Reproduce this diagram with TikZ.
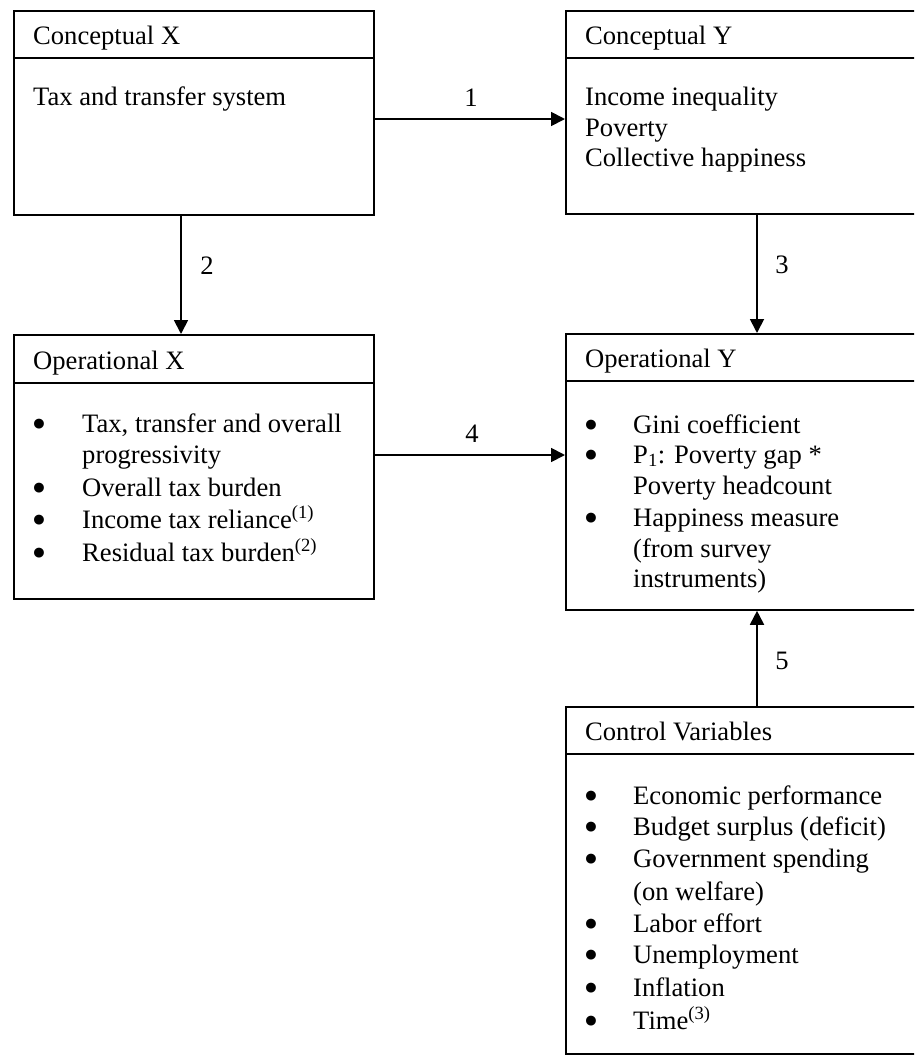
\documentclass[tikz,border=0pt]{standalone}
\usepackage{fontspec}
\setmainfont{Liberation Serif}
\newfontfamily\bulfont{DejaVu Sans}
\usetikzlibrary{arrows.meta}
\begin{document}
\begin{tikzpicture}[x=1pt,y=-1pt,
  box/.style={draw, line width=1.8pt, rectangle, inner sep=0pt, anchor=north west},
  rule/.style={line width=1.8pt},
  txt/.style={anchor=base west, inner sep=0pt, font=\fontsize{26.6}{32}\selectfont},
  bul/.style={anchor=base, inner sep=0pt, font=\bulfont\bfseries\fontsize{28}{32}\selectfont},
  lbl/.style={anchor=base, inner sep=0pt, font=\fontsize{26.6}{32}\selectfont},
  arr/.style={line width=1.8pt, -{Triangle[length=14pt,width=14pt]}}]
\newcommand{\bulglyph}{\raisebox{-2.5pt}{•}}
\useasboundingbox (0,0) rectangle (914,1055);
\clip (0,0) rectangle (914,1055);
% boxes
\node[box, minimum width=360pt, minimum height=204pt] (cx) at (13,10) {};
\node[box, minimum width=400pt, minimum height=203pt] (cy) at (565,10) {};
\node[box, minimum width=360pt, minimum height=264pt] (ox) at (13,334) {};
\node[box, minimum width=400pt, minimum height=276pt] (oy) at (565,333) {};
\node[box, minimum width=400pt, minimum height=347pt] (cv) at (565,706) {};
% header dividers
\draw[rule] (cx.west |- 0,58) -- (cx.east |- 0,58);
\draw[rule] (cy.west |- 0,58) -- (cy.east |- 0,58);
\draw[rule] (ox.west |- 0,383) -- (ox.east |- 0,383);
\draw[rule] (oy.west |- 0,381) -- (oy.east |- 0,381);
\draw[rule] (cv.west |- 0,754) -- (cv.east |- 0,754);
% Conceptual X
\node[txt] (cxh) at (33,44) {Conceptual X};
\node[txt] (cxb) at (33,105) {Tax and transfer system};
% Conceptual Y
\node[txt] (cyh) at (585,44) {Conceptual Y};
\node[txt] (cyb1) at (585,105) {Income inequality};
\node[txt] (cyb2) at (585,136) {Poverty};
\node[txt] (cyb3) at (585,166) {Collective happiness};
% Operational X
\node[txt] (oxh) at (33,369) {Operational X};
\node[bul] (oxd1) at (39,432) {\bulglyph};
\node[txt] (oxb1) at (82,432) {Tax, transfer and overall};
\node[txt] (oxb1b) at (82,463) {progressivity};
\node[bul] (oxd2) at (39,496) {\bulglyph};
\node[txt] (oxb2) at (82,496) {Overall tax burden};
\node[bul] (oxd3) at (39,528) {\bulglyph};
\node[txt] (oxb3) at (82,528) {Income tax reliance\textsuperscript{(1)}};
\node[bul] (oxd4) at (39,561) {\bulglyph};
\node[txt] (oxb4) at (82,561) {Residual tax burden\textsuperscript{(2)}};
% Operational Y
\node[txt] (oyh) at (585,367) {Operational Y};
\node[bul] (oyd1) at (591,433) {\bulglyph};
\node[txt] (oyb1) at (633,433) {Gini coefficient};
\node[bul] (oyd2) at (591,463) {\bulglyph};
\node[txt] (oyb2) at (633,463) {P\textsubscript{1}: Poverty gap *};
\node[txt] (oyb2b) at (633,494) {Poverty headcount};
\node[bul] (oyd3) at (591,526) {\bulglyph};
\node[txt] (oyb3) at (633,526) {Happiness measure};
\node[txt] (oyb3b) at (633,557) {(from survey};
\node[txt] (oyb3c) at (633,587) {instruments)};
% Control Variables
\node[txt] (cvh) at (585,740) {Control Variables};
\node[bul] (cvd1) at (591,804) {\bulglyph};
\node[txt] (cvb1) at (633,804) {Economic performance};
\node[bul] (cvd2) at (591,835) {\bulglyph};
\node[txt] (cvb2) at (633,835) {Budget surplus (deficit)};
\node[bul] (cvd3) at (591,867) {\bulglyph};
\node[txt] (cvb3) at (633,867) {Government spending};
\node[txt] (cvb3b) at (633,900) {(on welfare)};
\node[bul] (cvd4) at (591,932) {\bulglyph};
\node[txt] (cvb4) at (633,932) {Labor effort};
\node[bul] (cvd5) at (591,963) {\bulglyph};
\node[txt] (cvb5) at (633,963) {Unemployment};
\node[bul] (cvd6) at (591,996) {\bulglyph};
\node[txt] (cvb6) at (633,996) {Inflation};
\node[bul] (cvd7) at (591,1029) {\bulglyph};
\node[txt] (cvb7) at (633,1029) {Time\textsuperscript{(3)}};
% connectors
\draw[arr] (cx.east |- 0,119) -- (cy.west |- 0,119);
\node[lbl] (l1) at (471,106) {1};
\draw[arr] (cx.south -| 181,0) -- (ox.north -| 181,0);
\node[lbl] (l2) at (207,274) {2};
\draw[arr] (cy.south -| 757,0) -- (oy.north -| 757,0);
\node[lbl] (l3) at (782,273) {3};
\draw[arr] (ox.east |- 0,455) -- (oy.west |- 0,455);
\node[lbl] (l4) at (472,442) {4};
\draw[arr] (cv.north -| 757,0) -- (oy.south -| 757,0);
\node[lbl] (l5) at (782,669) {5};
\end{tikzpicture}
\end{document}
